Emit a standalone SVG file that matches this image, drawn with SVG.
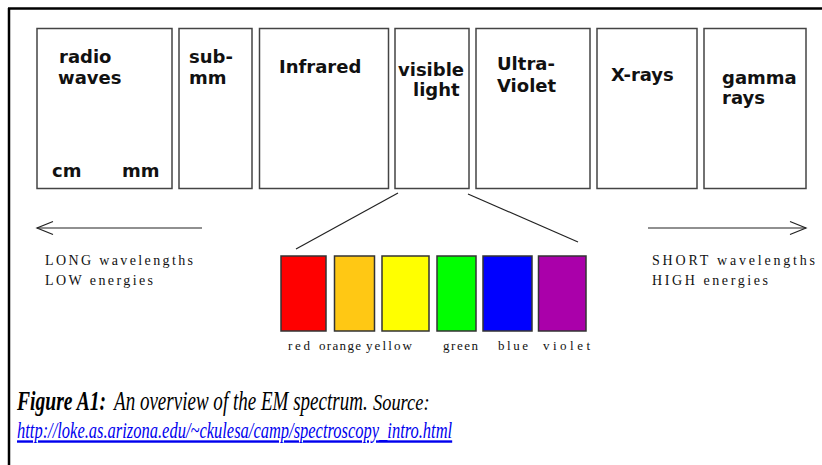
<svg xmlns="http://www.w3.org/2000/svg" width="822" height="465" viewBox="0 0 822 465">
<style>
.band{fill:#fff;stroke:#444;stroke-width:1.5}
.bl{font-family:"DejaVu Sans",sans-serif;font-weight:bold;font-size:18px;fill:#111}
.sw{stroke:#333;stroke-width:1.5}
.cl{font-family:"Liberation Serif",serif;font-size:13px;fill:#111}
.en{font-family:"Liberation Serif",serif;font-size:14px;fill:#111}
.ln{stroke:#222;stroke-width:1.2;fill:none}
.cap{font-family:"Liberation Serif",serif;font-style:italic;fill:#000}
</style>
<rect width="822" height="465" fill="#fff"/>
<g id="frame">
<line x1="8" y1="8.5" x2="822" y2="8.5" stroke="#000" stroke-width="2.5"/>
<line x1="9" y1="8" x2="9" y2="465" stroke="#000" stroke-width="2.5"/>
</g>
<g id="radio"><rect class="band" x="37" y="28.5" width="135" height="160"/><text class="bl" x="59" y="63">radio</text><text class="bl" x="58" y="84">waves</text><text class="bl" x="52" y="177">cm</text><text class="bl" x="122" y="177">mm</text></g>
<g id="submm"><rect class="band" x="179" y="28.5" width="73" height="160"/><text class="bl" x="189" y="63">sub-</text><text class="bl" x="189" y="84">mm</text></g>
<g id="infrared"><rect class="band" x="259.5" y="28.5" width="129" height="160"/><text class="bl" x="279" y="73">Infrared</text></g>
<g id="visible"><rect class="band" x="395" y="28.5" width="74" height="160"/><text class="bl" x="398" y="76">visible</text><text class="bl" x="413" y="96">light</text></g>
<g id="ultraviolet"><rect class="band" x="476" y="28.5" width="114" height="160"/><text class="bl" x="497" y="70">Ultra-</text><text class="bl" x="497" y="92">Violet</text></g>
<g id="xrays"><rect class="band" x="597" y="28.5" width="100" height="160"/><text class="bl" x="611" y="81">X-rays</text></g>
<g id="gamma"><rect class="band" x="704" y="28.5" width="102" height="160"/><text class="bl" x="722" y="84">gamma</text><text class="bl" x="722" y="104">rays</text></g>
<g id="connectors">
<line class="ln" x1="398" y1="193" x2="296" y2="249"/>
<line class="ln" x1="468" y1="194" x2="578" y2="242"/>
<line class="ln" x1="37" y1="228" x2="202" y2="228"/>
<polyline class="ln" points="53,221.5 37,228 53,234.5"/>
<line class="ln" x1="648" y1="228" x2="806" y2="228"/>
<polyline class="ln" points="790,221.5 806,228 790,234.5"/>
</g>
<g id="long-label"><text class="en" x="45" y="265" textLength="148" lengthAdjust="spacing">LONG wavelengths</text><text class="en" x="45" y="285" textLength="108" lengthAdjust="spacing">LOW energies</text></g>
<g id="short-label"><text class="en" x="652" y="265" textLength="163" lengthAdjust="spacing">SHORT wavelengths</text><text class="en" x="652" y="285" textLength="116" lengthAdjust="spacing">HIGH energies</text></g>
<g id="red"><rect class="sw" x="281" y="256" width="45" height="75" fill="#ff0000"/><text class="cl" x="288" y="350" textLength="22" lengthAdjust="spacing">red</text></g>
<g id="orange"><rect class="sw" x="334.5" y="256" width="40" height="75" fill="#ffc814"/><text class="cl" x="319" y="350" textLength="42" lengthAdjust="spacing">orange</text></g>
<g id="yellow"><rect class="sw" x="382" y="256" width="47" height="75" fill="#ffff00"/><text class="cl" x="366" y="350" textLength="46" lengthAdjust="spacing">yellow</text></g>
<g id="green"><rect class="sw" x="437" y="256" width="39" height="75" fill="#00ff00"/><text class="cl" x="443" y="350" textLength="35" lengthAdjust="spacing">green</text></g>
<g id="blue"><rect class="sw" x="483" y="256" width="49" height="75" fill="#0000ff"/><text class="cl" x="498" y="350" textLength="30" lengthAdjust="spacing">blue</text></g>
<g id="violet"><rect class="sw" x="538.5" y="256" width="47.5" height="75" fill="#aa00aa"/><text class="cl" x="543" y="350" textLength="47" lengthAdjust="spacing">violet</text></g>
<g id="caption">
<text class="cap" transform="translate(17,410) scale(0.7,1)" font-size="28" font-weight="bold">Figure A1:</text>
<text class="cap" transform="translate(114,410) scale(0.68,1)" font-size="28">An overview of the EM spectrum.</text>
<text class="cap" transform="translate(373,410) scale(0.8,1)" font-size="23">Source:</text>
<text class="cap" transform="translate(17,438) scale(0.687,1)" font-size="24" style="fill:#0000ee" text-decoration="underline">http://loke.as.arizona.edu/~ckulesa/camp/spectroscopy_intro.html</text>
</g>
</svg>
